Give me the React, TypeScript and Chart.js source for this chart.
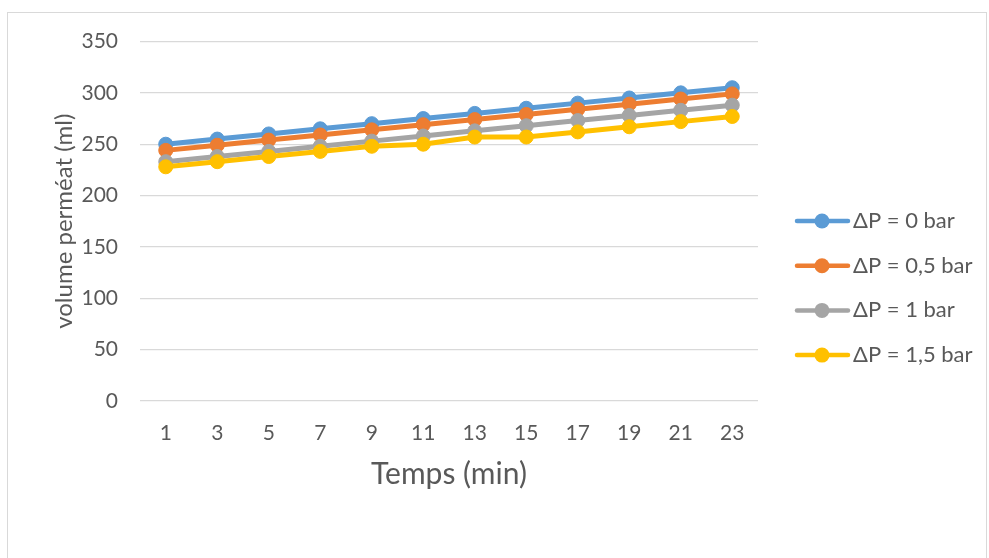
import React, { useEffect, useRef } from "react";
import { Chart, registerables } from "chart.js";

Chart.register(...registerables);

const categories = ["1", "3", "5", "7", "9", "11", "13", "15", "17", "19", "21", "23"];
const seriesNames = ["ΔP = 0 bar", "ΔP = 0,5 bar", "ΔP = 1 bar", "ΔP = 1,5 bar"];
const dp0 = [250, 255, 260, 265, 270, 275, 280, 285, 290, 295, 300, 305];
const dp05 = [244, 249, 254, 259, 264, 269, 274, 279, 284, 289, 294, 299];
const dp1 = [233, 238, 243, 248, 253, 258, 263, 268, 273, 278, 283, 288];
const dp15 = [228, 233, 238, 243, 248, 250, 257, 257, 262, 267, 272, 277];
const colors = ["#5B9BD5", "#ED7D31", "#A5A5A5", "#FFC000"];
const yMin = 0;
const yMax = 350;
const yStep = 50;
const yTitle = "volume perméat (ml)";
const xTitle = "Temps (min)";

const FONT = "Lato";
const TEXT = "#595959";

const framePlugin = {
  id: "frame",
  beforeDraw(chart: any) {
    const ctx = chart.ctx;
    ctx.save();
    ctx.fillStyle = "#ffffff";
    ctx.fillRect(0, 0, chart.width, chart.height);
    ctx.strokeStyle = "#d9d9d9";
    ctx.lineWidth = 1;
    ctx.strokeRect(7.5, 12.5, 979, 700);
    ctx.restore();
  },
};

const legendPlugin = {
  id: "customLegend",
  afterDraw(chart: any) {
    const ctx = chart.ctx;
    const ds = chart.data.datasets;
    ctx.save();
    ds.forEach((d: any, i: number) => {
      const y = 221 + i * 44.7;
      ctx.strokeStyle = d.borderColor;
      ctx.lineWidth = 4.5;
      ctx.lineCap = "round";
      ctx.beginPath();
      ctx.moveTo(797, y);
      ctx.lineTo(848, y);
      ctx.stroke();
      ctx.fillStyle = d.borderColor;
      ctx.beginPath();
      ctx.arc(822, y, 7.5, 0, Math.PI * 2);
      ctx.fill();
      ctx.fillStyle = TEXT;
      ctx.font = `22px ${FONT}`;
      ctx.textBaseline = "middle";
      ctx.textAlign = "left";
      ctx.fillText(d.label, 853, y);
    });
    ctx.restore();
  },
};

export default function App() {
  const ref = useRef<HTMLCanvasElement>(null);
  useEffect(() => {
    if (!ref.current) return;
    const values = [dp0, dp05, dp1, dp15];
    const chart = new Chart(ref.current, {
      type: "line",
      data: {
        labels: categories,
        datasets: values.map((v, i) => ({
          label: seriesNames[i],
          data: v,
          borderColor: colors[i],
          backgroundColor: colors[i],
          pointBackgroundColor: colors[i],
          pointBorderColor: colors[i],
          borderWidth: 5,
          pointRadius: 7,
          pointBorderWidth: 1,
          tension: 0,
          order: 4 - i,
        })),
      },
      options: {
        responsive: false,
        animation: false,
        layout: { padding: { top: 41.5, left: 0, right: 231, bottom: 57 } },
        plugins: {
          legend: { display: false },
          tooltip: { enabled: false },
        },
        scales: {
          x: {
            offset: true,
            grid: { display: false, drawTicks: false },
            border: { display: false },
            ticks: {
              color: TEXT,
              font: { family: FONT, size: 21 },
              padding: 20,
              maxRotation: 0,
            },
            title: {
              display: true,
              text: xTitle,
              color: TEXT,
              font: { family: FONT, size: 30 },
              padding: { top: 0, bottom: 9 },
            },
            afterFit: (s: any) => {
              s.height = 100;
            },
          },
          y: {
            min: yMin,
            max: yMax,
            grid: { color: "#d9d9d9", lineWidth: 1.3, drawTicks: false },
            border: { display: false },
            ticks: {
              stepSize: yStep,
              color: TEXT,
              font: { family: FONT, size: 21 },
              padding: 22,
            },
            title: {
              display: true,
              text: yTitle,
              color: TEXT,
              font: { family: FONT, size: 24 },
              padding: { top: 50, bottom: 0 },
            },
            afterFit: (s: any) => {
              s.width = 140;
            },
          },
        },
      },
      plugins: [framePlugin, legendPlugin],
    });
    return () => chart.destroy();
  }, []);
  return (
    <div style={{ position: "absolute", left: 0, top: 0, width: 989, height: 558 }}>
      <canvas ref={ref} width={989} height={558} style={{ display: "block" }} />
    </div>
  );
}
